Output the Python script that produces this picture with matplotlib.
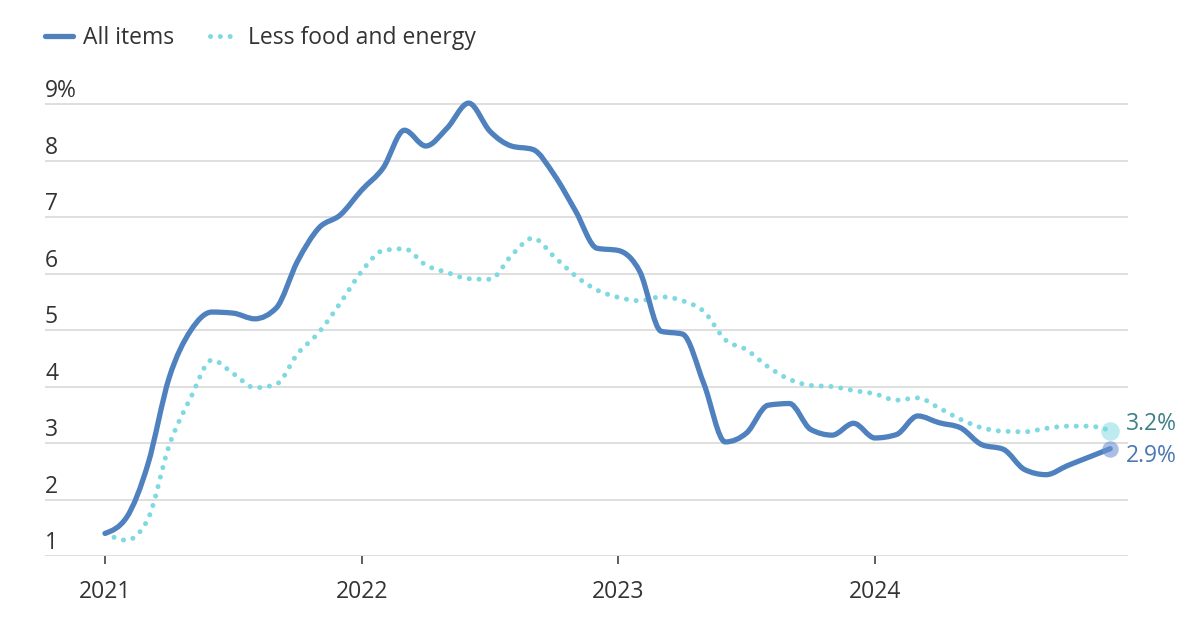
import numpy as np
import matplotlib.pyplot as plt
import matplotlib.transforms as mtransforms
from matplotlib.path import Path
from matplotlib.patches import PathPatch
from matplotlib.lines import Line2D

plt.rcParams['font.family'] = ['Open Sans', 'DejaVu Sans']

# CPI, year-over-year % change, monthly Jan 2021 - Dec 2024
all_items = [1.40, 1.68, 2.62, 4.16, 4.99, 5.32, 5.30, 5.20, 5.39, 6.22, 6.81, 7.04,
             7.48, 7.87, 8.54, 8.26, 8.58, 9.02, 8.52, 8.26, 8.20, 7.75, 7.11, 6.45,
             6.41, 6.04, 4.98, 4.93, 4.05, 3.02, 3.18, 3.67, 3.70, 3.24, 3.14, 3.35,
             3.09, 3.15, 3.48, 3.36, 3.27, 2.97, 2.89, 2.53, 2.44, 2.60, 2.75, 2.90]
core = [1.40, 1.28, 1.65, 2.96, 3.80, 4.47, 4.23, 3.98, 4.04, 4.58, 4.96, 5.48,
        6.04, 6.41, 6.44, 6.15, 6.02, 5.91, 5.90, 6.32, 6.63, 6.30, 5.96, 5.71,
        5.58, 5.52, 5.59, 5.52, 5.33, 4.83, 4.65, 4.35, 4.13, 4.02, 4.00, 3.93,
        3.87, 3.76, 3.80, 3.62, 3.42, 3.27, 3.21, 3.20, 3.26, 3.30, 3.30, 3.22]
years = [2021, 2022, 2023, 2024]
yticks = [1, 2, 3, 4, 5, 6, 7, 8, 9]
ylabels = ['1', '2', '3', '4', '5', '6', '7', '8', '9%']

months = 2021 + np.arange(len(all_items)) / 12

blue = '#4f81bf'
cyan = '#7fd9e1'
txt = '#333333'
fs = 16.5


# smooth monotone curve through the monthly points (like d3 curveMonotoneX)
def monotone_path(x, y):
    x = np.asarray(x, float)
    y = np.asarray(y, float)
    h = np.diff(x)
    s = np.diff(y) / h
    t = np.zeros(len(x))
    for i in range(1, len(x) - 1):
        p = (s[i-1] * h[i] + s[i] * h[i-1]) / (h[i-1] + h[i])
        t[i] = (np.sign(s[i-1]) + np.sign(s[i])) * min(abs(s[i-1]), abs(s[i]), 0.5 * abs(p))
    t[0] = (3 * s[0] - t[1]) / 2
    t[-1] = (3 * s[-1] - t[-2]) / 2
    verts = [(x[0], y[0])]
    codes = [Path.MOVETO]
    for i in range(len(x) - 1):
        dx = h[i] / 3
        verts += [(x[i] + dx, y[i] + dx * t[i]), (x[i+1] - dx, y[i+1] - dx * t[i+1]), (x[i+1], y[i+1])]
        codes += [Path.CURVE4] * 3
    return Path(verts, codes)


fig = plt.figure(figsize=(12, 6.32), dpi=100)
ax = fig.add_axes([45/1200, 76/632, 1083/1200, 480/632])
ax.set_xlim(2020.766, 2024.986)
ax.set_ylim(1, 9.5)

ax.add_patch(PathPatch(monotone_path(months, core), fill=False, edgecolor=cyan, lw=3.6,
                       linestyle=(0, (0.01, 1.95)), capstyle='round', joinstyle='round', zorder=3))
ax.add_patch(PathPatch(monotone_path(months, all_items), fill=False, edgecolor=blue, lw=3.8,
                       capstyle='round', joinstyle='round', zorder=4))

ax.scatter([months[-1]], [core[-1]], s=180, color=cyan, alpha=0.5, lw=0, zorder=5)
ax.scatter([months[-1]], [all_items[-1]], s=140, color='#6f93d3', alpha=0.6, lw=0, zorder=5)
ax.annotate('3.2%', (months[-1], core[-1]), xytext=(11, 5), textcoords='offset points',
            va='center', ha='left', fontsize=fs, color='#3f8088')
ax.annotate('2.9%', (months[-1], all_items[-1]), xytext=(11, -5.5), textcoords='offset points',
            va='center', ha='left', fontsize=fs, color='#4a78b3')

# grid + y labels sitting above the lines
ax.set_yticks(yticks)
ax.grid(axis='y', color='#d6d6d6', lw=1.1)
ax.tick_params(axis='y', length=0, labelleft=False)
trans = mtransforms.blended_transform_factory(ax.transAxes, ax.transData)
for v, lab in zip(yticks, ylabels):
    ax.text(0, v, lab, transform=trans + mtransforms.ScaledTranslation(0, 5/72, fig.dpi_scale_trans),
            ha='left', va='baseline', fontsize=fs, color=txt)

ax.set_xticks(years)
ax.set_xticklabels([str(y) for y in years])
ax.tick_params(axis='x', length=6, width=1.1, color=txt, pad=11, labelsize=fs, labelcolor=txt)
for sp in ax.spines.values():
    sp.set_visible(False)
ax.set_axisbelow(True)

handles = [Line2D([], [], color=blue, lw=3.8, solid_capstyle='round'),
           Line2D([], [], color=cyan, lw=3.6, linestyle=(0, (0.01, 1.95)), dash_capstyle='round')]
ax.legend(handles, ['All items', 'Less food and energy'], loc='center left',
          bbox_to_anchor=(45/1200, 1 - 38.5/632), bbox_transform=fig.transFigure, ncol=2,
          frameon=False, fontsize=fs, labelcolor=txt, handlelength=1.22, handletextpad=0.44,
          columnspacing=1.57, borderpad=0, borderaxespad=0)

fig.savefig('out.png', dpi=100, facecolor='white')
